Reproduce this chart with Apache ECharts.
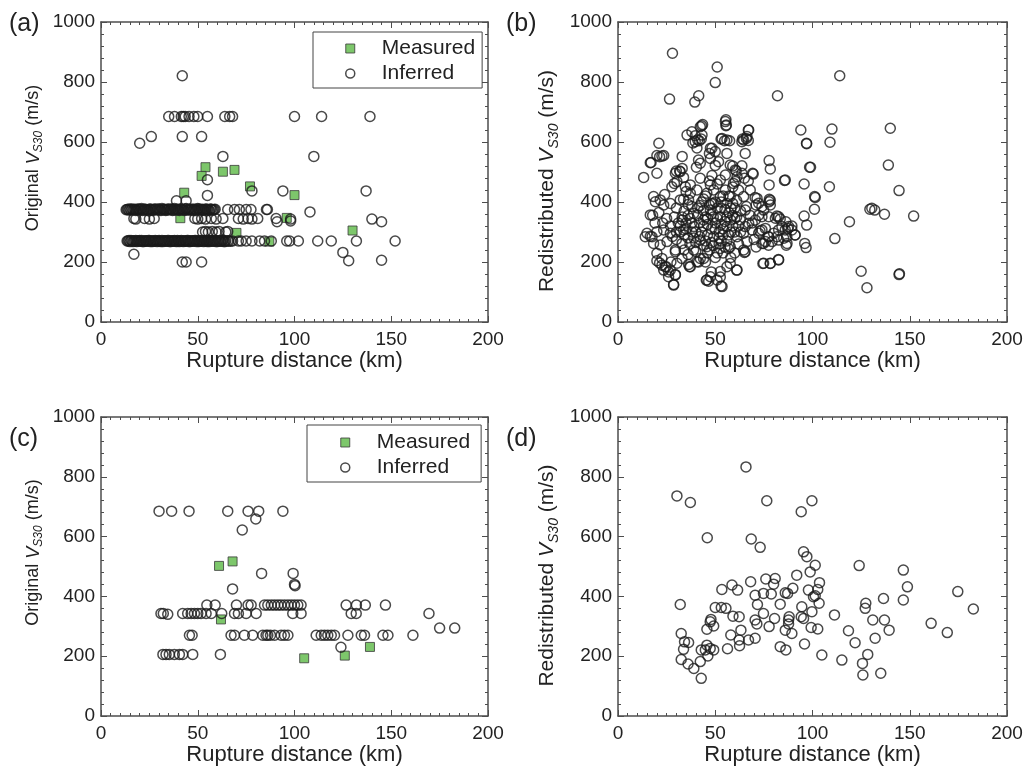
<!DOCTYPE html>
<html>
<head>
<meta charset="utf-8">
<script src="https://cdn.jsdelivr.net/npm/echarts@6/dist/echarts.min.js"></script>
<style>
  html, body { margin: 0; padding: 0; background: #fff; }
  #chart { width: 1026px; height: 776px; }
</style>
</head>
<body>
<div id="chart"></div>
<script>
// ---- Axis ticks ----
const xRange = [0, 200];
const xStep = 50;
const yRange = [0, 1000];
const yStep = 200;

// ---- Panel (a): original VS30, full set ----
const measuredA = [
  [43, 431], [54, 516], [52, 487], [63, 501], [69, 507], [77, 452],
  [100, 423], [41, 346], [70, 297], [96, 347], [130, 305], [87, 268]
];
const inferredA = [
  // 685 m/s class
  [35, 685], [38, 685], [41.5, 685], [42.5, 685], [43.5, 685], [45.5, 685], [48, 685],
  [50, 685], [55, 685], [64, 685], [66.5, 685], [68, 685], [100, 685], [114, 685], [139, 685],
  // scattered values
  [42, 821], [26, 618], [42, 618], [52, 618], [20, 596], [63, 552], [110, 552],
  [55, 474], [55, 422], [78, 437], [94, 437], [137, 437], [39, 404], [44, 404],
  [108, 367], [140, 343], [145, 334], [98, 337], [91, 334], [86, 375],
  [17, 226], [125, 232], [128, 204], [145, 206], [42, 200], [44, 200], [52, 200],
  // 375 m/s class
  [13, 374], [14, 376], [15.5, 373], [16, 377], [17, 375], [18, 372], [19.5, 376], [20, 374],
  [21, 378], [22, 373], [23, 376], [24, 374], [24.5, 371], [25.5, 377], [26, 375], [27, 373],
  [28, 377], [29, 374], [30, 376], [31, 372], [31.5, 378], [32.5, 374], [33, 376], [34, 373],
  [35, 377], [36, 375], [37, 372], [38, 378], [38.5, 374], [39.5, 376], [40, 373], [41, 377],
  [42, 375], [43, 372], [44, 378], [45, 374], [45.5, 376], [46.5, 373], [47, 377], [48, 375],
  [49, 372], [50, 378], [51, 374], [52, 376], [53, 373], [54, 377], [55, 375], [56, 372],
  [57, 376], [58, 374], [59, 376],
  [13.5, 375], [14.5, 373], [15, 377], [16.5, 374], [17.5, 376], [18.5, 373], [19, 377], [20.5, 375],
  [21.5, 372], [22.5, 376], [23.5, 374], [25, 376], [26.5, 372], [27.5, 376], [28.5, 374], [29.5, 377],
  [30.5, 373], [32, 375], [33.5, 372], [34.5, 376], [35.5, 374], [36.5, 377], [37.5, 373], [39, 375],
  [40.5, 372], [41.5, 376], [42.5, 374], [43.5, 377], [44.5, 373], [46, 375], [47.5, 372], [48.5, 376],
  [49.5, 374], [50.5, 377], [51.5, 373], [52.5, 375], [53.5, 372], [54.5, 376], [55.5, 374], [56.5, 377],
  [57.5, 373], [58.5, 375],
  [65.5, 375], [69, 375], [71.5, 375], [75, 375], [77.5, 375], [85.5, 375],
  // 345 m/s class
  [17, 345], [18, 343], [22.5, 345], [25, 343], [27.5, 345], [48.5, 345], [50, 343], [52, 345],
  [54, 343], [57, 345], [59.5, 343], [63, 345], [71, 345], [73.5, 343], [76, 345], [78, 343],
  [81, 345], [90.5, 345], [98, 343],
  // 300 m/s class
  [52.5, 300], [54, 302], [55.5, 300], [57.5, 302], [59.5, 300], [61, 302], [64.5, 300], [65.5, 302],
  // 270 m/s class
  [13.5, 270], [14.5, 272], [15, 268], [16, 271], [17, 269], [18, 272], [18.5, 268], [19.5, 271],
  [20.5, 269], [21, 272], [22, 268], [23, 271], [23.5, 269], [24.5, 272], [25.5, 268], [26, 271],
  [27, 269], [28, 272], [29, 268], [29.5, 271], [30.5, 269], [31.5, 272], [32, 268], [33, 271],
  [34, 269], [35, 272], [35.5, 268], [36.5, 271], [37.5, 269], [38, 272], [39, 268], [40, 271],
  [41, 269], [41.5, 272], [42.5, 268], [43.5, 271], [44, 269], [45, 272], [46, 268], [47, 271],
  [47.5, 269], [48.5, 272], [49.5, 268], [50, 271], [51, 269], [52, 272], [53, 268], [53.5, 271],
  [54.5, 269], [55.5, 272], [56, 268], [57, 271], [58, 269], [59, 272], [60, 268], [61, 271],
  [62, 269], [63, 272], [64, 268], [65.5, 271], [67, 269], [68, 270],
  [14, 270], [15.5, 272], [16.5, 268], [17.5, 271], [19, 269], [20, 272], [21.5, 268], [22.5, 271],
  [24, 269], [25, 272], [26.5, 268], [27.5, 271], [28.5, 269], [30, 272], [31, 268], [32.5, 271],
  [33.5, 269], [34.5, 272], [36, 268], [37, 271], [38.5, 269], [39.5, 272], [40.5, 268], [42, 271],
  [43, 269], [44.5, 272], [45.5, 268], [46.5, 271], [48, 269], [49, 272], [50.5, 268], [51.5, 271],
  [52.5, 269], [54, 272], [55, 268], [56.5, 271], [57.5, 269], [58.5, 272], [59.5, 268], [60.5, 271],
  [61.5, 269], [62.5, 272], [63.5, 268], [64.5, 271], [66, 269],
  [71, 270], [72.5, 270], [75, 270], [78, 270], [82, 270], [84.5, 270], [88, 270], [96, 270],
  [97.5, 270], [102, 270], [112, 270], [119, 270], [132, 270], [152, 270]
];

// ---- Panel (b): redistributed VS30, full set ----
const redistB = [
  [28, 896], [51, 850], [50, 798], [114, 821], [26.5, 743], [39.5, 733], [41.5, 754], [82, 754],
  [43, 654], [43.5, 658], [55.5, 674], [55.5, 654], [67, 640], [66, 612], [64, 610], [94, 640],
  [110, 643], [97, 594], [109, 599], [140, 646], [139, 523], [144.5, 438], [152, 353], [137, 359],
  [129.5, 376], [132, 373], [119, 334], [111.5, 278], [125, 169], [128, 114], [144.5, 158], [144.7, 161],
  [108.7, 451], [99, 516], [95.7, 460], [85.6, 472], [101.4, 415], [101, 376], [95.7, 353], [97, 323],
  [96, 262], [96.7, 248], [82.5, 208], [78.3, 195], [74.5, 195], [69.5, 493], [77.7, 538], [78.3, 510],
  [77.7, 457], [78.3, 406], [77.7, 401], [70.5, 415],
  [81.7, 353], [83.4, 343], [86.3, 334], [87.3, 312], [89.4, 320], [91, 290], [86.8, 284], [86.5, 256],
  [81.7, 284], [77.4, 284], [74.8, 262], [77.4, 256], [73, 303], [72.3, 356], [74, 384], [71, 390],
  [67.2, 640], [69.2, 496], [86, 473], [96.9, 596], [98.5, 516], [101.1, 418], [130.5, 379],
  [71.5, 412], [72.3, 396], [77.8, 409], [78.3, 390], [74.9, 373], [74, 351], [77.5, 351], [80.9, 346],
  [82.6, 351], [70.6, 340], [67.2, 329], [68.9, 307], [72.3, 296], [74, 307], [75.8, 312], [77.5, 284],
  [80, 296], [82.6, 307], [84.3, 318], [86, 307], [87.7, 318], [89.4, 307], [91.1, 290], [86.9, 262],
  [85.2, 279], [82.6, 273], [79.2, 268], [75.8, 268], [74, 262], [74.9, 196], [78.3, 196], [82.6, 207],
  [65.4, 234], [66.3, 268], [65.4, 318], [65.4, 373],
  [61, 173], [52.6, 150], [53, 120], [46.6, 136], [45.4, 139], [48, 167], [28.6, 125], [29.5, 158],
  [26, 167], [23.5, 173], [21.4, 197], [20, 204], [17.8, 356], [14, 284], [16.6, 286], [13.2, 482],
  [17, 532], [20, 496], [21, 596], [20, 555], [23.5, 555], [33, 552], [29, 462], [30, 503],
  [31.7, 503], [33.7, 482], [33.7, 409], [39.7, 621], [38.5, 597], [41.8, 604], [42.8, 610], [40.6, 580],
  [53, 610], [54.8, 604], [57.4, 604], [48.3, 579], [47, 562], [63.7, 601], [67, 605], [65, 479],
  [59, 520], [63.7, 521], [60.8, 504], [60.3, 468], [65, 232], [56.8, 245], [52.6, 245], [57.7, 195],
  [36.3, 192], [36.8, 184], [41.4, 200], [42.3, 212], [45, 200], [29.5, 234], [27.2, 200], [24.8, 184],
  [22.6, 189],
  [16.6, 531], [21.4, 551], [22.6, 553], [35.5, 623], [38, 634], [41, 607], [42.3, 651], [43.2, 623],
  [39.7, 601], [55.2, 668], [55.7, 657], [53.5, 612], [56, 607], [64.6, 607], [66.3, 618], [47.5, 579],
  [50, 568], [56, 562], [33, 512], [32, 501], [29.5, 496], [41.4, 540], [42.3, 529], [40.3, 516],
  [47.5, 545], [50, 522], [51.7, 534], [48.3, 488], [57.7, 523], [60.3, 507], [61.2, 484], [59.4, 462],
  [55.2, 490], [52.6, 473], [47.5, 457], [42.3, 479], [37.2, 457], [34.6, 451], [30.3, 468], [27.7, 451],
  [18.3, 418], [21.7, 407], [19.2, 401], [23.5, 390], [32, 407], [36.3, 407], [37.2, 429], [40.6, 440],
  [45.7, 429], [49.2, 440], [52.6, 418], [55.2, 440], [57.7, 418], [62, 440], [64.6, 418], [63.7, 496],
  [65.4, 562],
  [16.6, 357], [14.9, 296], [17.5, 284], [20, 301], [23.5, 307], [26.9, 296], [18.3, 262], [21.7, 257],
  [25.2, 268], [20, 229], [22.6, 212], [24.3, 184], [26.9, 173], [29.5, 157], [28.6, 123], [26, 151],
  [30.3, 196], [32.9, 212], [37.2, 184], [40.6, 201], [44, 212], [45.7, 140], [47.5, 151], [50.9, 140],
  [53.5, 118], [52.6, 168], [56, 184], [61.2, 173], [64.6, 240], [42.3, 273], [33.7, 307], [38.9, 362],
  [44, 340], [47.5, 373], [52.6, 351], [56, 318], [49.2, 284], [45.7, 251], [57.7, 251], [61.2, 284],
  [62.9, 340], [64.6, 296], [38.9, 240], [32.9, 262], [29.5, 240],
  [35, 330], [37, 345], [39, 318], [41, 355], [43, 300], [44, 372], [46, 325], [48, 395],
  [50, 310], [51, 345], [53, 380], [54, 290], [55, 335], [57, 365], [58, 300], [59, 395],
  [60, 345], [62, 320], [36, 280], [38, 300], [40, 265], [42, 388], [44, 410], [46, 290],
  [48, 265], [50, 400], [52, 300], [54, 420], [56, 270], [58, 340], [60, 380], [62, 260],
  [34, 370], [36, 392], [31, 330], [29, 350], [27, 320], [25, 345], [23, 330], [21, 365],
  [19, 330], [28, 285], [30, 275], [32, 300], [34, 240], [36, 225], [46, 230], [50, 215],
  [54, 230], [58, 215], [60, 230], [40, 235], [44, 255], [48, 310], [52, 260], [24, 425],
  [27, 395], [30, 380], [33, 350], [35, 435], [38, 385], [42, 330], [45, 350], [47, 470],
  [49, 395], [51, 460], [53, 325], [56, 395], [59, 355], [61, 405], [63, 370], [66, 385],
  [68, 355], [69, 330], [70, 275], [71, 250], [68, 440], [67, 470],
  [40, 300], [42, 285], [44, 320], [46, 345], [48, 360], [50, 330], [52, 280], [54, 310],
  [56, 350], [58, 380], [60, 300], [38, 330], [36, 355], [34, 290], [32, 320], [30, 300],
  [45, 270], [47, 240], [49, 255], [51, 230], [53, 270], [55, 250], [57, 290], [59, 320],
  [61, 350], [63, 300], [41, 380], [43, 400], [45, 420], [47, 390], [49, 350], [51, 380],
  [53, 400], [55, 375], [57, 420], [59, 450], [39, 280], [37, 260], [35, 310], [33, 340]
];

// ---- Panel (c): original VS30, subset ----
const measuredC = [
  [61, 502], [68, 517], [62, 323], [105, 193], [126, 202], [139, 231]
];
const inferredC = [
  [30, 685], [36.5, 685], [45.5, 685], [65.5, 685], [76, 685], [81.5, 685], [94, 685],
  [80, 659], [73, 622], [83, 477], [99.3, 477], [100, 440], [100.3, 436], [68, 425], [124, 230],
  [54.7, 371], [59, 371], [70, 371], [76, 371], [77.6, 371], [84.5, 371], [86.2, 371], [88, 371],
  [89.7, 371], [91.4, 371], [93, 371], [94.8, 371], [96.6, 371], [98.3, 371], [100, 371], [101.7, 371],
  [103.4, 371], [126.7, 371], [132, 371], [136.6, 371], [147, 371],
  [31, 343], [32.2, 343], [34.5, 340], [42.2, 343], [44.8, 343], [46.6, 343], [48.3, 343], [50, 343],
  [51.7, 343], [54.3, 343], [57, 343], [62.4, 343], [69, 343], [71, 343], [75, 343], [80.2, 343],
  [99.1, 343], [103.4, 343], [129.3, 343], [131.9, 343], [169.5, 343],
  [175, 294], [182.8, 294],
  [45.7, 270], [47.1, 270], [67.2, 270], [69, 270], [74.1, 270], [78.4, 270], [83.6, 270], [85.3, 270],
  [86.2, 270], [87.6, 270], [89.7, 270], [93.1, 270], [94.8, 270], [96.6, 270], [111.2, 270], [113.8, 270],
  [115.5, 270], [117.2, 270], [119, 270], [120.7, 270], [127.6, 270], [134.5, 270], [136.2, 270], [145.7, 270],
  [148.3, 270], [161.2, 270],
  [32, 206], [33.6, 206], [35.3, 206], [37.9, 206], [40.5, 206], [42.2, 206], [47.4, 206], [61.7, 206]
];

// ---- Panel (d): redistributed VS30, subset ----
const redistD = [
  [65.8, 833], [30.3, 736], [37.2, 714], [76.5, 720], [99.7, 720], [94.2, 683], [45.9, 596], [68.5, 592],
  [73.1, 564], [95.4, 549], [97.1, 533], [101.4, 504], [98.8, 482], [124, 503], [146.7, 488], [148.8, 432],
  [91.9, 471], [80.8, 460], [80, 441], [76, 458], [68.2, 449], [103.6, 446], [102.7, 423], [58.6, 438],
  [61.5, 421], [53.4, 423], [89.9, 427], [86, 412], [83.4, 374], [87.2, 410], [97.9, 421], [100.5, 399],
  [101.4, 402], [103.4, 377], [94.5, 365], [99.7, 349], [70.5, 404], [74.8, 410], [78.8, 408], [71.7, 373],
  [32, 373], [50, 363], [53.1, 363], [55.5, 360], [59.1, 334], [62.3, 332], [74.8, 343], [80.5, 326],
  [70.5, 321], [71.4, 308], [88, 332], [87.7, 321], [94.2, 332], [95.4, 326], [99.3, 296], [102.7, 291],
  [77.7, 299], [47.8, 323], [47.4, 315], [49.2, 301], [45.7, 290], [58, 271], [63.2, 287], [62.3, 254],
  [67.1, 254], [70.5, 260], [86, 287], [87.7, 308], [89.4, 276], [83.4, 232], [86.3, 221], [95.9, 241],
  [104.8, 204], [111.3, 338], [118.5, 285], [121.9, 245], [115.1, 187], [127.4, 377], [127.1, 360], [131, 321],
  [136.5, 393], [137, 321], [139.4, 287], [132.2, 260], [128.4, 206], [125.7, 176], [125.9, 137], [135.1, 143],
  [146.7, 388], [161, 310], [169.3, 279], [174.7, 416], [182.7, 358], [32.5, 276], [34.2, 248], [36.3, 246],
  [33.7, 223], [32.5, 189], [36, 174], [39, 159], [42.8, 126], [42.3, 182], [42.8, 221], [45.7, 237],
  [44.9, 221], [47.4, 226], [49.2, 221], [46.2, 201], [56.3, 225], [62.5, 235]
];

// ---- Styling ----
const FONT = '"Liberation Sans", Arial, Helvetica, sans-serif';
const INK = '#222';
const FRAME = '#4d4d4d';

const grids = [
  { left: 101, top: 22, width: 387, height: 300 },
  { left: 618, top: 22, width: 389, height: 300 },
  { left: 101, top: 417, width: 387, height: 299 },
  { left: 618, top: 417, width: 389, height: 299 }
];
const yTitles = ['Original', 'Redistributed', 'Original', 'Redistributed'];
// per-panel y title: font size, offset along the axis (+ = up), gap from the axis
const yTitleSize = [18, 21, 18, 21];
const yTitleShift = [14, -9, 14, -9];
const yTitleGap = [56, 57, 56, 57];

const circleStyle = { color: 'rgba(0,0,0,0)', borderColor: '#1c1c1c', borderWidth: 1.5 };
const squareStyle = { color: '#5cb946', borderColor: '#3a3a3a', borderWidth: 1 };

function frameAxis(extra) {
  return Object.assign({
    type: 'value',
    axisLine: { show: true, onZero: false, lineStyle: { color: FRAME, width: 1.5 } },
    axisTick: { show: true, inside: true, length: 6, lineStyle: { color: FRAME, width: 1 } },
    minorTick: { show: true, length: 3, lineStyle: { color: FRAME, width: 1 } },
    splitLine: { show: false },
    axisLabel: { show: false }
  }, extra);
}

function yTitleStyle(i) {
  const fs = yTitleSize[i];
  const sub = Math.round(fs * 0.68);
  const lh = Math.round(fs * 1.3);
  const shift = yTitleShift[i];
  return {
    fontSize: fs, color: INK, fontFamily: FONT,
    padding: shift >= 0 ? [0, 0, 0, 2 * shift] : [0, -2 * shift, 0, 0],
    rich: {
      n: { fontSize: fs, color: INK, fontFamily: FONT, lineHeight: lh, verticalAlign: 'middle' },
      v: { fontSize: fs, color: INK, fontFamily: FONT, fontStyle: 'italic', lineHeight: lh, verticalAlign: 'middle' },
      s: { fontSize: sub, color: INK, fontFamily: FONT, fontStyle: 'italic', lineHeight: sub, verticalAlign: 'bottom' }
    }
  };
}

const plain = v => String(v);
const xAxis = [], yAxis = [];
grids.forEach((g, i) => {
  const xBase = { gridIndex: i, min: xRange[0], max: xRange[1], interval: xStep };
  const yBase = { gridIndex: i, min: yRange[0], max: yRange[1], interval: yStep };
  const xMinor = { show: true, splitNumber: 10, length: 3, lineStyle: { color: FRAME, width: 1 } };
  const yMinor = { show: true, splitNumber: 5, length: 3, lineStyle: { color: FRAME, width: 1 } };
  xAxis.push(frameAxis(Object.assign({}, xBase, {
    position: 'bottom',
    minorTick: xMinor,
    axisLabel: { show: true, fontSize: 19, color: INK, fontFamily: FONT, margin: 8, formatter: plain },
    name: 'Rupture distance (km)',
    nameLocation: 'middle',
    nameGap: 26,
    nameTextStyle: { fontSize: 22, color: INK, fontFamily: FONT }
  })));
  xAxis.push(frameAxis(Object.assign({}, xBase, { position: 'top', minorTick: xMinor })));
  yAxis.push(frameAxis(Object.assign({}, yBase, {
    position: 'left',
    minorTick: yMinor,
    axisLabel: { show: true, fontSize: 19, color: INK, fontFamily: FONT, margin: 6, formatter: plain },
    name: '{n|' + yTitles[i] + ' }{v|V}{s|S30}{n| (m/s)}',
    nameLocation: 'middle',
    nameGap: yTitleGap[i],
    nameTextStyle: yTitleStyle(i)
  })));
  yAxis.push(frameAxis(Object.assign({}, yBase, { position: 'right', minorTick: yMinor })));
});

function scatter(name, data, gi, style, symbol, size) {
  return {
    type: 'scatter', name, data,
    xAxisIndex: gi * 2, yAxisIndex: gi * 2,
    symbol, symbolSize: size,
    itemStyle: style,
    emphasis: { disabled: true },
    animation: false
  };
}

const series = [
  scatter('Measured', measuredA, 0, squareStyle, 'rect', 9),
  scatter('Inferred', inferredA, 0, circleStyle, 'circle', 10),
  scatter('Redistributed', redistB, 1, circleStyle, 'circle', 10),
  scatter('Measured', measuredC, 2, squareStyle, 'rect', 9),
  scatter('Inferred', inferredC, 2, circleStyle, 'circle', 10),
  scatter('Redistributed', redistD, 3, circleStyle, 'circle', 10)
];

function legendBox(left, top, pad) {
  return {
    left, top, orient: 'vertical',
    data: [
      { name: 'Measured', icon: 'rect', itemStyle: squareStyle },
      { name: 'Inferred', icon: 'circle', itemStyle: circleStyle }
    ],
    itemWidth: 9, itemHeight: 9, itemGap: 4,
    padding: pad,
    borderColor: '#444', borderWidth: 1,
    selectedMode: false,
    textStyle: { fontSize: 21, color: INK, fontFamily: FONT, padding: [0, 0, 0, 22], lineHeight: 21 }
  };
}

function panelTag(text, left, top) {
  return {
    text, left, top, padding: 0,
    textStyle: { fontSize: 25, fontWeight: 'normal', color: INK, fontFamily: FONT }
  };
}

const chart = echarts.init(document.getElementById('chart'), null, { renderer: 'canvas' });
chart.setOption({
  backgroundColor: '#fff',
  animation: false,
  title: [
    panelTag('(a)', 9, 12), panelTag('(b)', 506, 12),
    panelTag('(c)', 9, 427), panelTag('(d)', 506, 427)
  ],
  legend: [
    legendBox(313, 32, [6, 7, 4, 32]),
    legendBox(307, 425, [7, 11, 4, 33])
  ],
  grid: grids,
  xAxis, yAxis, series
});
</script>
</body>
</html>
